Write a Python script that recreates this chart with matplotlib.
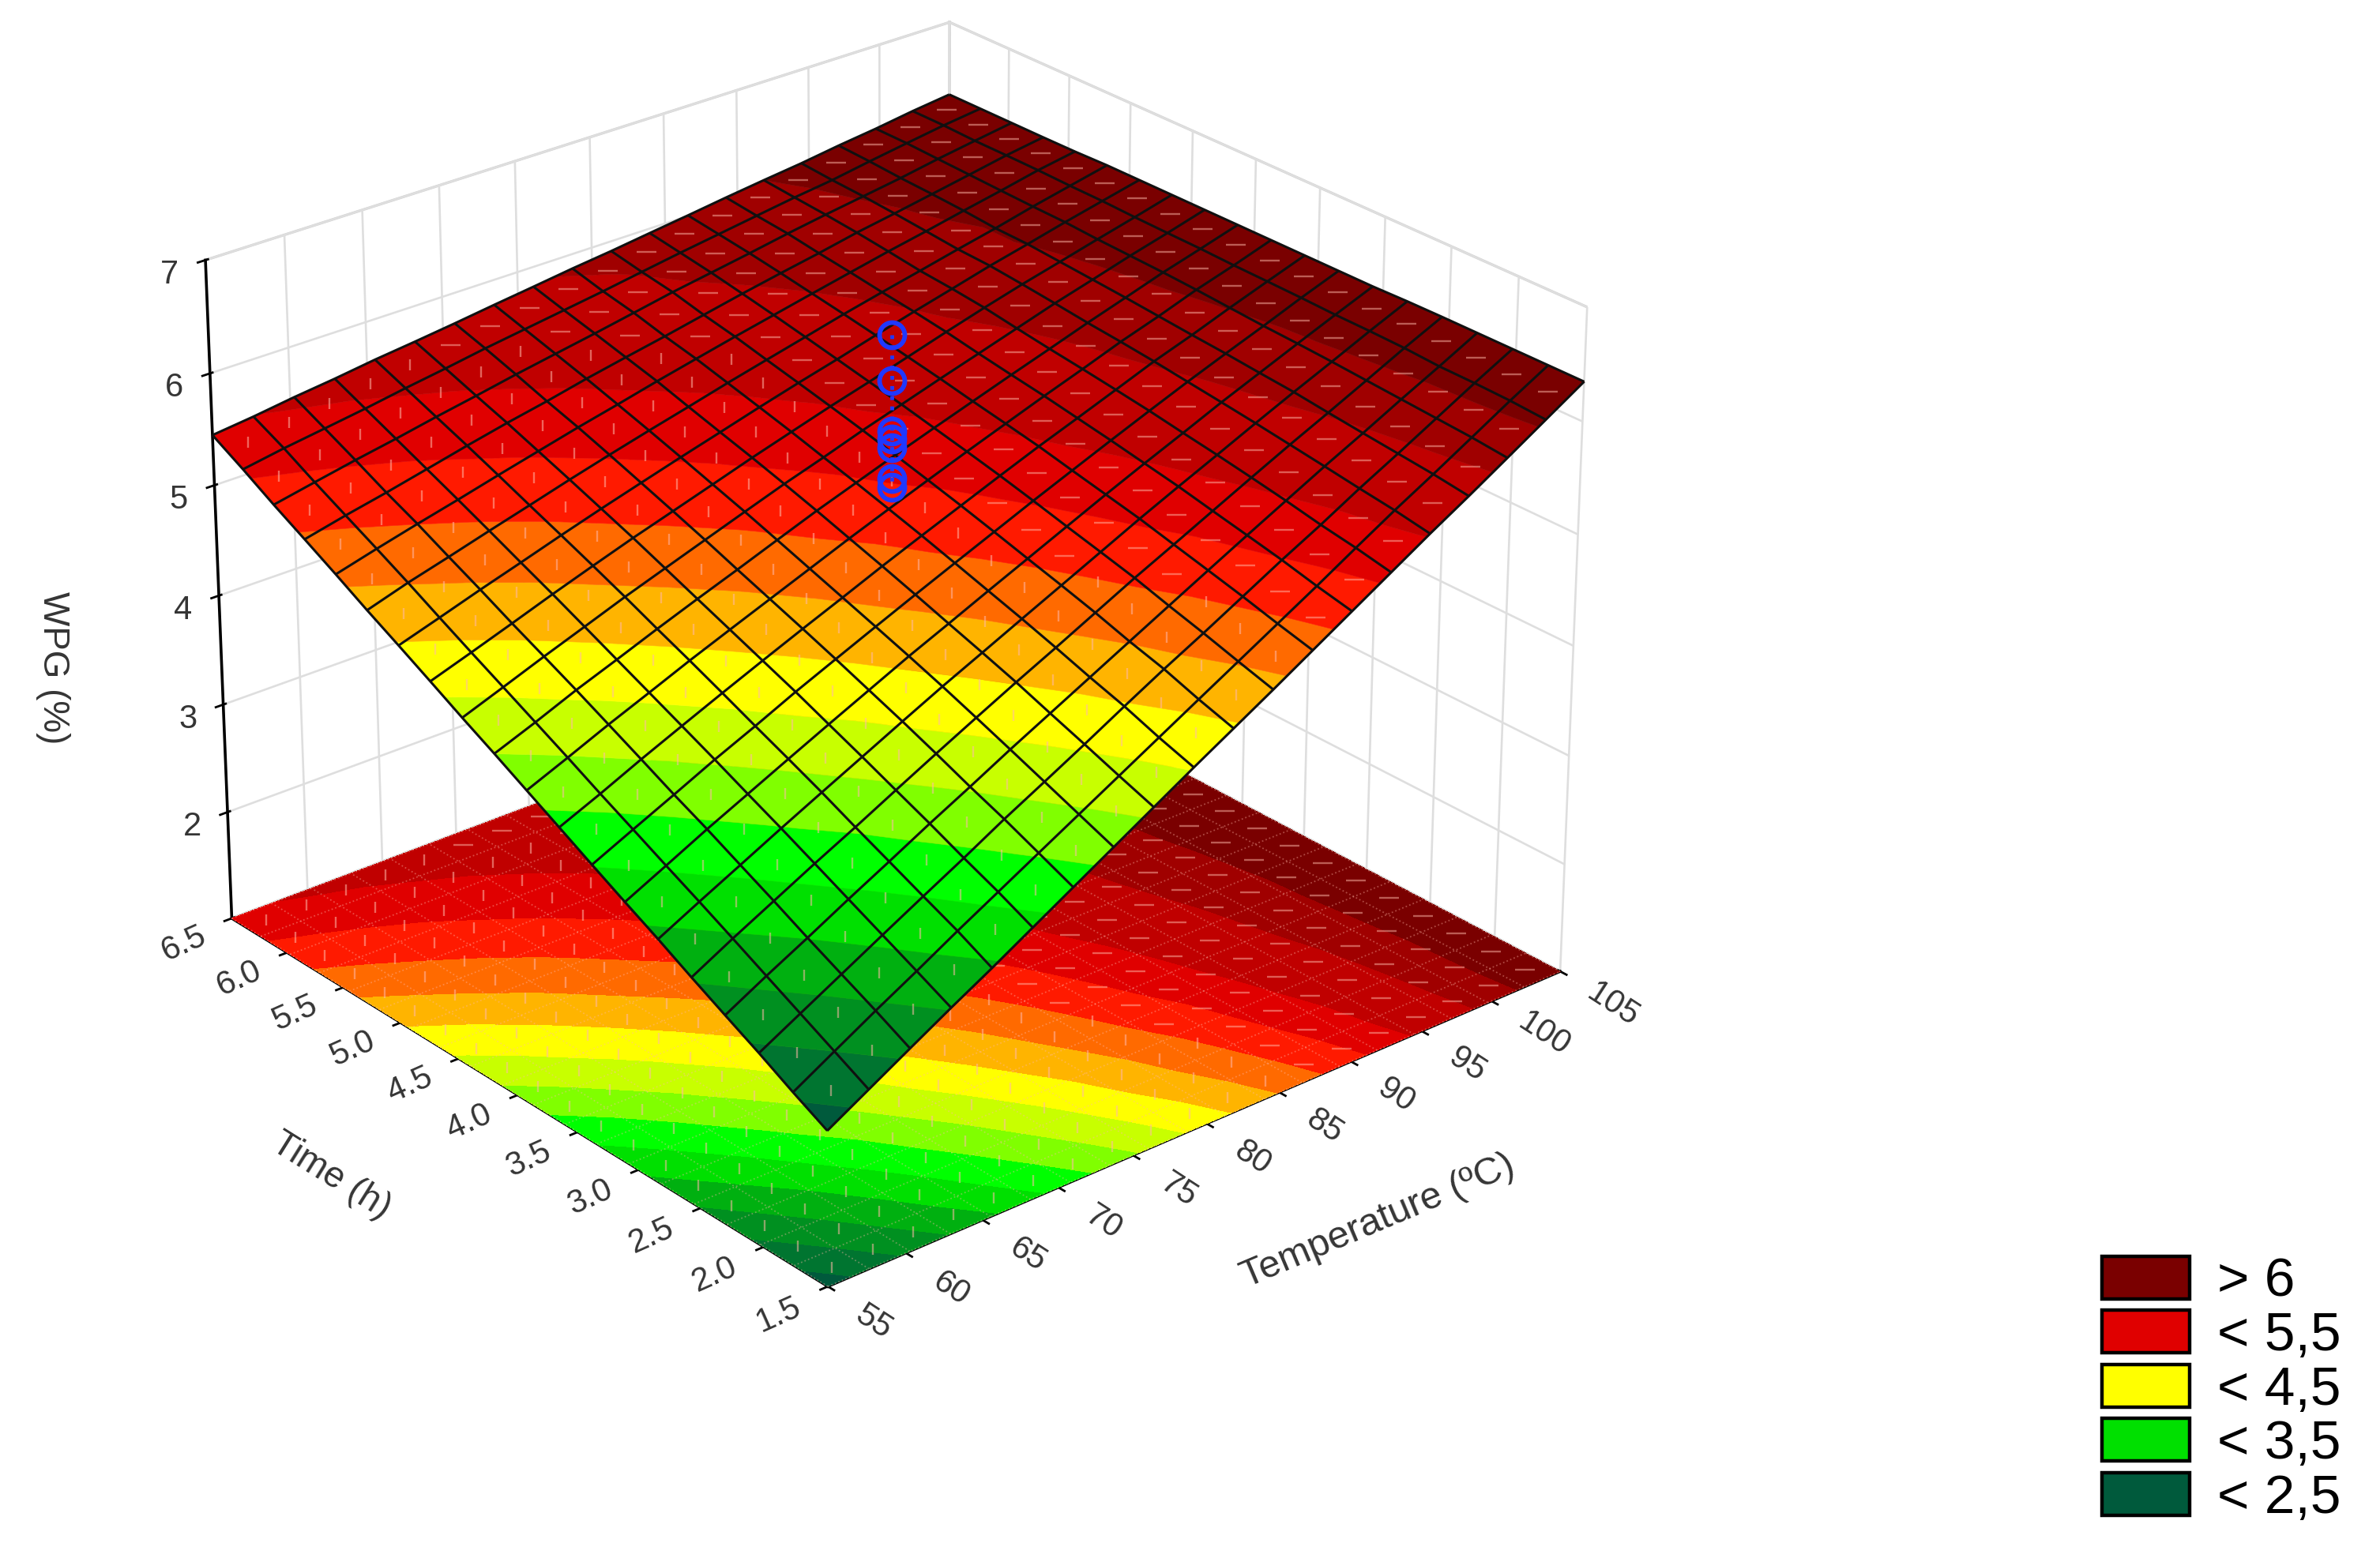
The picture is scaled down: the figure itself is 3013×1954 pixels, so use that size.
import numpy as np
import matplotlib
matplotlib.use('Agg')
import matplotlib.pyplot as plt
from matplotlib.patches import Patch
from mpl_toolkits.mplot3d.art3d import Poly3DCollection
from contourpy import contour_generator

plt.rcParams['font.family'] = ['Liberation Sans', 'DejaVu Sans']

# fitted surface
TEMPERATURE = [55, 57.5, 60, 62.5, 65, 67.5, 70, 72.5, 75, 77.5, 80,
               82.5, 85, 87.5, 90, 92.5, 95, 97.5, 100, 102.5, 105]
TIME = [1.5, 1.75, 2, 2.25, 2.5, 2.75, 3, 3.25, 3.5, 3.75, 4,
        4.25, 4.5, 4.75, 5, 5.25, 5.5, 5.75, 6, 6.25, 6.5]
WPG = [
    [2.38, 2.58, 2.78, 2.98, 3.17, 3.37, 3.57, 3.77, 3.97, 4.17, 4.37, 4.56, 4.76, 4.96, 5.16, 5.36, 5.56, 5.75, 5.95, 6.15, 6.35],
    [2.53, 2.73, 2.93, 3.12, 3.32, 3.51, 3.70, 3.89, 4.08, 4.27, 4.46, 4.65, 4.84, 5.03, 5.22, 5.42, 5.61, 5.79, 5.98, 6.17, 6.35],
    [2.69, 2.88, 3.07, 3.26, 3.45, 3.63, 3.83, 4.01, 4.19, 4.38, 4.57, 4.75, 4.92, 5.11, 5.29, 5.46, 5.65, 5.82, 6.00, 6.18, 6.35],
    [2.84, 3.03, 3.21, 3.40, 3.58, 3.77, 3.94, 4.13, 4.30, 4.48, 4.65, 4.83, 5.00, 5.18, 5.35, 5.52, 5.69, 5.85, 6.02, 6.18, 6.35],
    [2.99, 3.18, 3.36, 3.54, 3.71, 3.89, 4.07, 4.24, 4.42, 4.58, 4.75, 4.92, 5.09, 5.24, 5.41, 5.57, 5.73, 5.88, 6.04, 6.20, 6.35],
    [3.15, 3.33, 3.50, 3.68, 3.85, 4.02, 4.19, 4.36, 4.52, 4.68, 4.84, 5.00, 5.16, 5.32, 5.47, 5.62, 5.77, 5.92, 6.06, 6.21, 6.35],
    [3.30, 3.47, 3.65, 3.81, 3.98, 4.14, 4.30, 4.47, 4.62, 4.77, 4.93, 5.07, 5.23, 5.38, 5.52, 5.66, 5.81, 5.94, 6.08, 6.21, 6.34],
    [3.45, 3.62, 3.78, 3.95, 4.10, 4.27, 4.42, 4.57, 4.72, 4.86, 5.01, 5.15, 5.30, 5.43, 5.58, 5.71, 5.84, 5.97, 6.09, 6.22, 6.34],
    [3.61, 3.76, 3.92, 4.08, 4.23, 4.38, 4.53, 4.67, 4.82, 4.96, 5.10, 5.23, 5.37, 5.50, 5.62, 5.75, 5.88, 5.99, 6.11, 6.23, 6.34],
    [3.76, 3.91, 4.07, 4.21, 4.36, 4.50, 4.64, 4.77, 4.91, 5.04, 5.17, 5.30, 5.43, 5.55, 5.67, 5.79, 5.91, 6.01, 6.13, 6.23, 6.34],
    [3.92, 4.06, 4.20, 4.34, 4.48, 4.61, 4.74, 4.87, 5.01, 5.13, 5.26, 5.37, 5.49, 5.60, 5.72, 5.82, 5.94, 6.04, 6.15, 6.24, 6.34],
    [4.07, 4.20, 4.35, 4.47, 4.60, 4.73, 4.85, 4.97, 5.10, 5.21, 5.32, 5.44, 5.54, 5.65, 5.75, 5.86, 5.96, 6.06, 6.16, 6.25, 6.34],
    [4.22, 4.35, 4.47, 4.60, 4.73, 4.84, 4.96, 5.07, 5.19, 5.29, 5.40, 5.51, 5.60, 5.71, 5.80, 5.90, 6.00, 6.08, 6.17, 6.25, 6.34],
    [4.38, 4.49, 4.61, 4.73, 4.84, 4.96, 5.06, 5.16, 5.27, 5.37, 5.47, 5.56, 5.65, 5.75, 5.85, 5.94, 6.02, 6.10, 6.18, 6.26, 6.34],
    [4.53, 4.64, 4.75, 4.85, 4.96, 5.06, 5.16, 5.26, 5.35, 5.44, 5.54, 5.62, 5.71, 5.80, 5.88, 5.96, 6.05, 6.12, 6.20, 6.27, 6.34],
    [4.68, 4.79, 4.88, 4.98, 5.07, 5.17, 5.26, 5.35, 5.43, 5.52, 5.60, 5.68, 5.76, 5.84, 5.91, 5.98, 6.05, 6.12, 6.20, 6.27, 6.34],
    [4.84, 4.93, 5.02, 5.10, 5.19, 5.27, 5.36, 5.43, 5.52, 5.59, 5.67, 5.74, 5.81, 5.88, 5.95, 6.02, 6.08, 6.15, 6.21, 6.28, 6.33],
    [4.99, 5.07, 5.14, 5.22, 5.30, 5.38, 5.44, 5.52, 5.59, 5.65, 5.72, 5.79, 5.86, 5.92, 5.98, 6.05, 6.10, 6.16, 6.22, 6.28, 6.33],
    [5.14, 5.21, 5.28, 5.34, 5.41, 5.47, 5.54, 5.60, 5.66, 5.72, 5.79, 5.85, 5.90, 5.96, 6.02, 6.07, 6.12, 6.17, 6.23, 6.28, 6.33],
    [5.30, 5.36, 5.41, 5.46, 5.52, 5.57, 5.63, 5.68, 5.73, 5.78, 5.83, 5.89, 5.94, 5.99, 6.04, 6.09, 6.13, 6.19, 6.24, 6.29, 6.33],
    [5.45, 5.49, 5.54, 5.58, 5.63, 5.67, 5.71, 5.76, 5.80, 5.85, 5.89, 5.93, 5.98, 6.02, 6.07, 6.11, 6.15, 6.20, 6.24, 6.29, 6.33],
]

# experimental points, all at the centre of the design
POINT_T = [80, 80, 80, 80, 80, 80, 80]
POINT_TIME = [4, 4, 4, 4, 4, 4, 4]
POINT_WPG = [6.55, 6.15, 5.70, 5.63, 5.55, 5.28, 5.20]

LEVELS = [0, 2.5, 2.75, 3, 3.25, 3.5, 3.75, 4, 4.25, 4.5, 4.75, 5, 5.25, 5.5, 5.85, 6.1, 8]
BAND_COLORS = ['#005a3c', '#007530', '#009020', '#00b010', '#00e000', '#00ff00', '#80ff00', '#c8ff00',
               '#ffff00', '#ffb400', '#ff6a00', '#ff1a00', '#e00000', '#c00000', '#a00000', '#7a0000']

LEGEND_LABELS = ['> 6', '< 5,5', '< 4,5', '< 3,5', '< 2,5']
LEGEND_COLORS = ['#7a0000', '#e00000', '#ffff00', '#00e000', '#005a3c']

T_TICKS = [55, 60, 65, 70, 75, 80, 85, 90, 95, 100, 105]
TIME_TICKS = [1.5, 2, 2.5, 3, 3.5, 4, 4.5, 5, 5.5, 6, 6.5]
WPG_TICKS = [2, 3, 4, 5, 6, 7]
FLOOR = 1
MESH_CELLS = 19  # the drawn mesh is coarser than the table

DPI = 100
W, H = 3013, 1954
TEXT = '#353535'
SPECK = '#ffb8a8'

X, Y = np.meshgrid(TEMPERATURE, TIME)
Z = np.array(WPG)


def z_on_surface(xs, ys):
    # bilinear lookup in the table
    i = np.clip(np.searchsorted(TEMPERATURE, xs) - 1, 0, len(TEMPERATURE) - 2)
    j = np.clip(np.searchsorted(TIME, ys) - 1, 0, len(TIME) - 2)
    u = (xs - X[0, i]) / (X[0, i + 1] - X[0, i])
    v = (ys - Y[j, 0]) / (Y[j + 1, 0] - Y[j, 0])
    return (Z[j, i]*(1-u)*(1-v) + Z[j, i+1]*u*(1-v) + Z[j+1, i]*(1-u)*v + Z[j+1, i+1]*u*v)


fig = plt.figure(figsize=(W/DPI, H/DPI), dpi=DPI)
S = 1900.5
ax = fig.add_axes([153.3/W, 192.2/H, S/W, S/H], projection='3d', computed_zorder=False)
ax.view_init(elev=26.296, azim=-130.049)
ax.set_proj_type('persp', focal_length=1.0229)
ax.set_box_aspect((1.3070, 1.2993, 1.0), zoom=1)

# contour map on the floor
ax.contourf(X, Y, Z, levels=LEVELS, colors=BAND_COLORS, zdir='z', offset=FLOOR, zorder=1)

# the surface, one polygon per colour band
gen = contour_generator(X, Y, Z, fill_type='OuterOffset')
for k, col in enumerate(BAND_COLORS):
    polys, _ = gen.filled(LEVELS[k], LEVELS[k+1])
    verts = [np.column_stack([p, z_on_surface(p[:, 0], p[:, 1])]) for p in polys]
    if verts:
        ax.add_collection3d(Poly3DCollection(verts, facecolors=col, edgecolors=col, linewidths=0.4, zorder=3),
                            autolim=False)

mesh_t = np.linspace(TEMPERATURE[0], TEMPERATURE[-1], MESH_CELLS + 1)
mesh_h = np.linspace(TIME[0], TIME[-1], MESH_CELLS + 1)
MX, MY = np.meshgrid(mesh_t, mesh_h)
MZ = z_on_surface(MX.ravel(), MY.ravel()).reshape(MX.shape)

# pale specks of the original rendering: a dash in each cell, dotted mesh on the floor
ax.plot_wireframe(MX, MY, np.full(MX.shape, FLOOR), color=SPECK, linewidth=1.3, linestyle=':', alpha=0.4, zorder=2)
cx, cy = np.meshgrid((mesh_t[:-1] + mesh_t[1:])/2, (mesh_h[:-1] + mesh_h[1:])/2)
cx, cy = cx.ravel(), cy.ravel()
cz = z_on_surface(cx, cy)
flat = (cz > 5.65) | ((cx > 80) & (cz > 5.0))
for zs, zo in ((np.full(cz.shape, FLOOR), 2), (cz, 4)):
    ax.plot(cx[flat], cy[flat], zs[flat], linestyle='none', marker='_', markersize=18, markeredgewidth=1.7,
            color=SPECK, alpha=0.5, zorder=zo)
    ax.plot(cx[~flat], cy[~flat], zs[~flat], linestyle='none', marker='|', markersize=10, markeredgewidth=1.7,
            color=SPECK, alpha=0.55, zorder=zo)

ax.plot_wireframe(MX, MY, MZ, color='#101010', linewidth=2.2, zorder=5)

# points and the dotted line through them
ax.plot(POINT_T, POINT_TIME, POINT_WPG, color='#2038ff', linestyle=':', linewidth=3.5, zorder=6)
ax.plot(POINT_T, POINT_TIME, POINT_WPG, linestyle='none', marker='o', markersize=23, markerfacecolor='none',
        markeredgecolor='#2038ff', markeredgewidth=4.2, zorder=7)

ax.set_xlim(55, 105, view_margin=0)
ax.set_ylim(1.5, 6.5, view_margin=0)
ax.set_zlim(FLOOR, 7, view_margin=0)

ax.set_xticks(T_TICKS)
ax.set_yticks(TIME_TICKS)
ax.set_zticks(WPG_TICKS)
ax.set_xticklabels([str(v) for v in T_TICKS], fontsize=30, color=TEXT, rotation=-33, ha='left', va='center')
ax.set_yticklabels(['%.1f' % v for v in TIME_TICKS], fontsize=30, color=TEXT, rotation=24, ha='right', va='center')
ax.set_zticklabels([str(v) for v in WPG_TICKS], fontsize=30, color=TEXT, ha='center', va='top')
ax.tick_params(axis='x', pad=16)
ax.tick_params(axis='y', pad=12)
ax.tick_params(axis='z', pad=11)

for axis in (ax.xaxis, ax.yaxis, ax.zaxis):
    axis.set_pane_color((1, 1, 1, 1))
    axis.pane.set_edgecolor('#d2d2d2')
    axis.pane.set_linewidth(2.4)
    axis.line.set_color('black')
    axis.line.set_linewidth(2.6)
    axis._axinfo['grid']['color'] = '#dedede'
    axis._axinfo['grid']['linewidth'] = 1.9
    axis._axinfo['tick']['linewidth'] = {True: 2.0, False: 1.0}
    axis._axinfo['tick']['color'] = 'black'
    axis._axinfo['tick']['outward_factor'] = 0.04
    axis._axinfo['tick']['inward_factor'] = 0.12

fig.text(908*1.9216/W, 1-805*1.9216/H, 'Temperature (ºC)', fontsize=35, color=TEXT, rotation=23, ha='center', va='center')
fig.text(218*1.9216/W, 1-775*1.9216/H, 'Time (h)', fontsize=33, color=TEXT, rotation=-32, ha='center', va='center')
fig.text(35*1.9216/W, 1-440*1.9216/H, 'WPG (%)', fontsize=33, color=TEXT, rotation=270, ha='center', va='center')

handles = [Patch(facecolor=c, edgecolor='black', linewidth=3.2) for c in LEGEND_COLORS]
fig.legend(handles, LEGEND_LABELS, loc='lower left', bbox_to_anchor=(2661/W, (H-1930)/H), frameon=False,
           fontsize=50, handlelength=1.6, handleheight=0.82, labelspacing=0.05, handletextpad=0.5,
           borderpad=0, borderaxespad=0)

plt.savefig('out.png', dpi=DPI)
